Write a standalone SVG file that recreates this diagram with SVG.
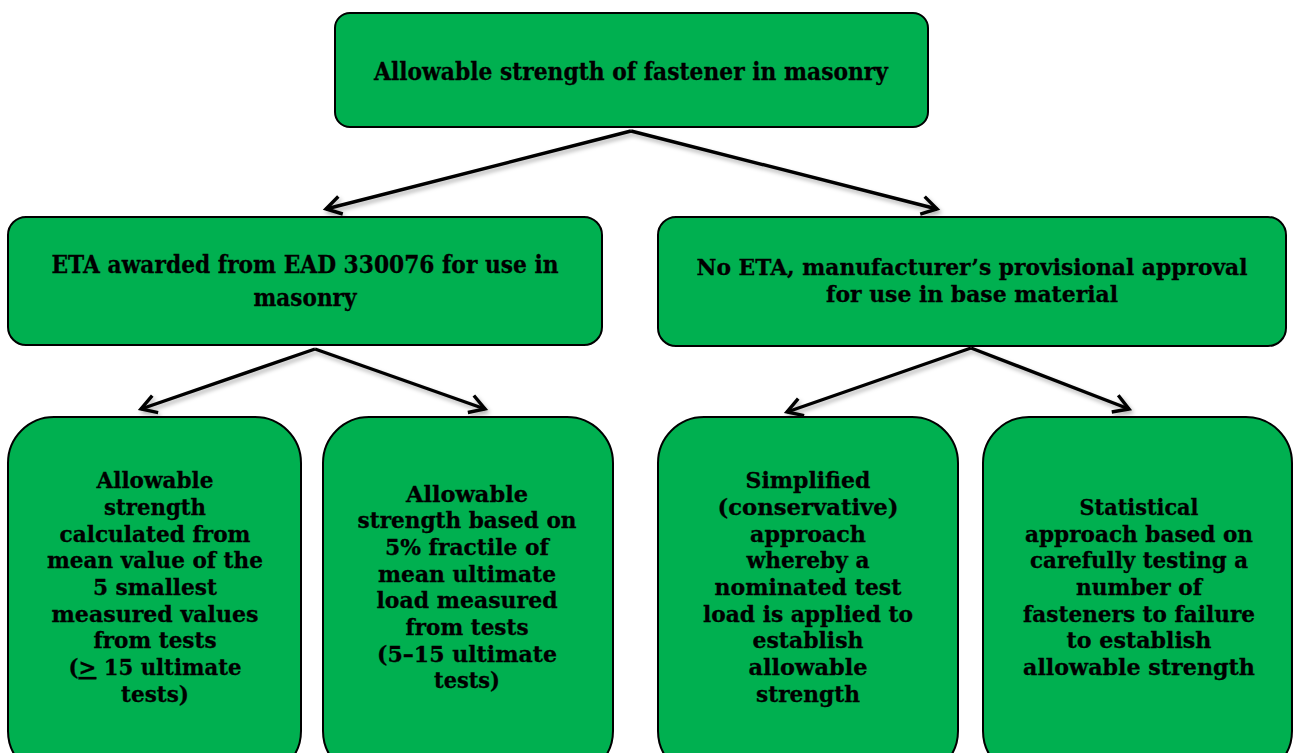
<svg xmlns="http://www.w3.org/2000/svg" width="1294" height="753" viewBox="0 0 1294 753">
<defs>
<style>
.box{fill:#00B050;stroke:#000;stroke-width:2}
.t{font-family:"DejaVu Serif","Liberation Serif",serif;font-weight:bold;fill:#000;stroke:#000;stroke-width:0.3;text-anchor:middle}
.t1{font-size:24px}
.t3{font-size:22px}
.t2{font-size:23px}
.con{fill:none;stroke:#000;stroke-width:3.4;marker-end:url(#arr)}
</style>
<marker id="arr" markerUnits="userSpaceOnUse" markerWidth="30" markerHeight="30" refX="0" refY="0" viewBox="-20 -15 30 30" orient="auto">
<path d="M-15,-9 L0,0 L-15,9" fill="none" stroke="#000" stroke-width="3.4" stroke-linejoin="miter"/>
</marker>
<filter id="sh" x="-10%" y="-10%" width="130%" height="150%">
<feDropShadow dx="2" dy="3" stdDeviation="2" flood-color="#000" flood-opacity="0.3"/>
</filter>
</defs>
<g id="connectors" filter="url(#sh)">
<line class="con" x1="631" y1="131" x2="326" y2="209"/>
<line class="con" x1="631" y1="131" x2="937" y2="209"/>
<line class="con" x1="315" y1="349" x2="141" y2="409"/>
<line class="con" x1="315" y1="349" x2="485" y2="409"/>
<line class="con" x1="971" y1="348" x2="787" y2="412"/>
<line class="con" x1="971" y1="348" x2="1129" y2="409"/>
</g>
<g id="n-top">
<rect class="box" x="335" y="13" width="593" height="114" rx="15"/>
<text class="t t1" x="631" y="80" textLength="514" lengthAdjust="spacingAndGlyphs">Allowable strength of fastener in masonry</text>
</g>
<g id="n-eta">
<rect class="box" x="8" y="217" width="594" height="128" rx="18"/>
<text class="t t1" x="305" y="273" textLength="507" lengthAdjust="spacingAndGlyphs">ETA awarded from EAD 330076 for use in</text>
<text class="t t1" x="305" y="306" textLength="103" lengthAdjust="spacingAndGlyphs">masonry</text>
</g>
<g id="n-noeta">
<rect class="box" x="658" y="217" width="628" height="129" rx="18"/>
<text class="t t3" x="972" y="275" textLength="551" lengthAdjust="spacingAndGlyphs">No ETA, manufacturer’s provisional approval</text>
<text class="t t3" x="972" y="302" textLength="292" lengthAdjust="spacingAndGlyphs">for use in base material</text>
</g>
<g id="n-b1">
<rect class="box" x="8" y="417" width="293" height="360" rx="46"/>
<text class="t t2" x="155" y="488" textLength="117" lengthAdjust="spacingAndGlyphs">Allowable</text>
<text class="t t2" x="155" y="515" textLength="102" lengthAdjust="spacingAndGlyphs">strength</text>
<text class="t t2" x="155" y="542" textLength="191" lengthAdjust="spacingAndGlyphs">calculated from</text>
<text class="t t2" x="155" y="568" textLength="216" lengthAdjust="spacingAndGlyphs">mean value of the</text>
<text class="t t2" x="155" y="595" textLength="124" lengthAdjust="spacingAndGlyphs">5 smallest</text>
<text class="t t2" x="155" y="622" textLength="207" lengthAdjust="spacingAndGlyphs">measured values</text>
<text class="t t2" x="155" y="648" textLength="123" lengthAdjust="spacingAndGlyphs">from tests</text>
<text class="t t2" x="155" y="675" textLength="173" lengthAdjust="spacingAndGlyphs">(<tspan text-decoration="underline">&gt;</tspan> 15 ultimate</text>
<text class="t t2" x="155" y="702" textLength="68" lengthAdjust="spacingAndGlyphs">tests)</text>
</g>
<g id="n-b2">
<rect class="box" x="323" y="417" width="290" height="360" rx="46"/>
<text class="t t2" x="467" y="502" textLength="122" lengthAdjust="spacingAndGlyphs">Allowable</text>
<text class="t t2" x="467" y="528" textLength="219" lengthAdjust="spacingAndGlyphs">strength based on</text>
<text class="t t2" x="467" y="555" textLength="164" lengthAdjust="spacingAndGlyphs">5% fractile of</text>
<text class="t t2" x="467" y="582" textLength="178" lengthAdjust="spacingAndGlyphs">mean ultimate</text>
<text class="t t2" x="467" y="608" textLength="181" lengthAdjust="spacingAndGlyphs">load measured</text>
<text class="t t2" x="467" y="635" textLength="123" lengthAdjust="spacingAndGlyphs">from tests</text>
<text class="t t2" x="467" y="662" textLength="180" lengthAdjust="spacingAndGlyphs">(5–15 ultimate</text>
<text class="t t2" x="467" y="688" textLength="66" lengthAdjust="spacingAndGlyphs">tests)</text>
</g>
<g id="n-b3">
<rect class="box" x="658" y="417" width="300" height="360" rx="46"/>
<text class="t t2" x="808" y="488" textLength="125" lengthAdjust="spacingAndGlyphs">Simplified</text>
<text class="t t2" x="808" y="515" textLength="181" lengthAdjust="spacingAndGlyphs">(conservative)</text>
<text class="t t2" x="808" y="542" textLength="116" lengthAdjust="spacingAndGlyphs">approach</text>
<text class="t t2" x="808" y="568" textLength="123" lengthAdjust="spacingAndGlyphs">whereby a</text>
<text class="t t2" x="808" y="595" textLength="187" lengthAdjust="spacingAndGlyphs">nominated test</text>
<text class="t t2" x="808" y="622" textLength="210" lengthAdjust="spacingAndGlyphs">load is applied to</text>
<text class="t t2" x="808" y="648" textLength="111" lengthAdjust="spacingAndGlyphs">establish</text>
<text class="t t2" x="808" y="675" textLength="119" lengthAdjust="spacingAndGlyphs">allowable</text>
<text class="t t2" x="808" y="702" textLength="104" lengthAdjust="spacingAndGlyphs">strength</text>
</g>
<g id="n-b4">
<rect class="box" x="983" y="417" width="309" height="360" rx="46"/>
<text class="t t2" x="1139" y="515" textLength="119" lengthAdjust="spacingAndGlyphs">Statistical</text>
<text class="t t2" x="1139" y="542" textLength="228" lengthAdjust="spacingAndGlyphs">approach based on</text>
<text class="t t2" x="1139" y="568" textLength="218" lengthAdjust="spacingAndGlyphs">carefully testing a</text>
<text class="t t2" x="1139" y="595" textLength="126" lengthAdjust="spacingAndGlyphs">number of</text>
<text class="t t2" x="1139" y="622" textLength="232" lengthAdjust="spacingAndGlyphs">fasteners to failure</text>
<text class="t t2" x="1139" y="648" textLength="145" lengthAdjust="spacingAndGlyphs">to establish</text>
<text class="t t2" x="1139" y="675" textLength="232" lengthAdjust="spacingAndGlyphs">allowable strength</text>
</g>
</svg>
